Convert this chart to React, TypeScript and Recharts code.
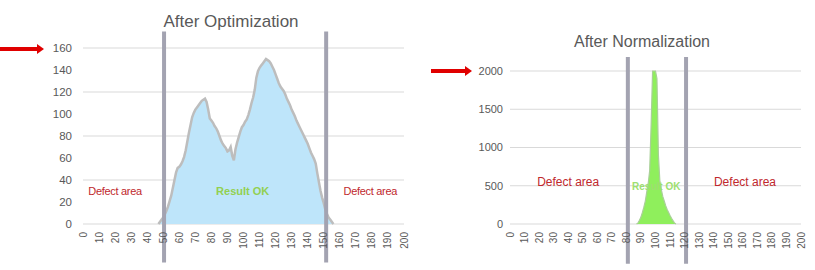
import React from 'react';
import { AreaChart, Area, XAxis, YAxis, CartesianGrid, ReferenceLine, ReferenceDot } from 'recharts';

// histogram bins (x) and counts
const OPT_BINS = [
  47, 48, 49, 50, 51, 52, 53, 54, 55, 56, 57, 58, 59, 60, 61, 62, 63, 64, 65, 66, 67, 68,
  69, 70, 71, 72, 73, 74, 75, 76, 77, 78, 79, 80, 81, 82, 83, 84, 85, 86, 87, 88, 89, 90,
  91, 92, 93, 94, 95, 96, 97, 98, 99, 100, 101, 102, 103, 104, 105, 106, 107, 108, 109, 110,
  111, 112, 113, 114, 115, 116, 117, 118, 119, 120, 121, 122, 123, 124, 125, 126, 127, 128,
  129, 130, 131, 132, 133, 134, 135, 136, 137, 138, 139, 140, 141, 142, 143, 144, 145, 146,
  147, 148, 149, 150, 151, 152, 153, 154, 155, 156,
];
const OPT_COUNTS = [
  0, 2, 4, 6, 9, 12, 16, 21, 26, 33, 40, 47, 51, 52, 54, 57, 61, 67, 75, 83, 90, 97,
  101, 104, 106, 108, 110, 112, 113, 114, 111, 104, 96, 94, 92, 89, 87, 84, 80, 76, 73, 71, 69, 66,
  67, 70, 62, 58, 68, 74, 79, 84, 88, 90, 93, 95, 99, 104, 110, 115, 122, 133, 139, 142,
  144, 146, 148, 150, 149, 148, 146, 143, 140, 136, 132, 128, 125, 123, 121, 118, 114, 111,
  108, 104, 101, 98, 94, 91, 88, 85, 82, 79, 76, 73, 69, 65, 62, 59, 55, 46,
  38, 30, 24, 19, 13, 9, 6, 4, 2, 0,
];

const NORM_BINS = [
  87, 88, 89, 90, 91, 92, 93, 94, 95, 96, 97, 98, 99, 100,
  101, 102, 103, 104, 105, 106, 107, 108, 109, 110, 111, 112, 113, 114,
];
const NORM_COUNTS = [
  0, 15, 50, 90, 150, 220, 300, 420, 530, 700, 1300, 2000, 2000, 2000,
  1900, 900, 560, 450, 360, 300, 240, 190, 150, 110, 75, 45, 15, 0,
];

const X_TICKS = [0, 10, 20, 30, 40, 50, 60, 70, 80, 90, 100, 110, 120, 130, 140, 150, 160, 170, 180, 190, 200];
const OPT_Y_TICKS = [0, 20, 40, 60, 80, 100, 120, 140, 160];
const NORM_Y_TICKS = [0, 500, 1000, 1500, 2000];

// limits drawn as thick bars
const OPT_LIMITS = [50.5, 151.5];
const NORM_LIMITS = [81, 121];

const optData = OPT_BINS.map((x, i) => ({ x, count: OPT_COUNTS[i] }));
const normData = NORM_BINS.map((x, i) => ({ x, count: NORM_COUNTS[i] }));

const FONT = '"Liberation Sans", Arial, sans-serif';
const GREY_TEXT = '#595959';

const RotatedTick = ({ x, y, payload }: any) => (
  <text
    x={x}
    y={y}
    transform={`rotate(-90, ${x}, ${y})`}
    textAnchor="end"
    dy="0.35em"
    fontSize={10}
    fill={GREY_TEXT}
    fontFamily={FONT}
  >
    {payload.value}
  </text>
);

const Arrow = ({ x, y, len }: { x: number; y: number; len: number }) => (
  <g>
    <rect x={x} y={y - 2} width={len - 6} height={4} fill="#e00000" />
    <polygon points={`${x + len - 7},${y - 5} ${x + len},${y} ${x + len - 7},${y + 5}`} fill="#e00000" />
  </g>
);

export default function App() {
  return (
    <div style={{ position: 'absolute', left: 0, top: 0, width: 815, height: 270, background: '#fff', fontFamily: FONT }}>
      <div style={{ position: 'absolute', left: 0, top: 0 }}>
        <AreaChart width={420} height={270} data={optData} margin={{ top: 48, right: 16, bottom: 6, left: 23 }}>
          <CartesianGrid stroke="#d9d9d9" vertical={false} />
          <XAxis
            dataKey="x"
            type="number"
            domain={[0, 200]}
            ticks={X_TICKS}
            interval={0}
            height={40}
            axisLine={false}
            tickLine={false}
            tickSize={0}
            tickMargin={8}
            tick={<RotatedTick />}
          />
          <YAxis
            type="number"
            domain={[0, 160]}
            ticks={OPT_Y_TICKS}
            width={60}
            axisLine={false}
            tickLine={false}
            tickSize={0}
            tickMargin={11}
            tick={{ fontSize: 11.5, fill: GREY_TEXT, fontFamily: FONT }}
          />
          <Area
            type="linear"
            dataKey="count"
            stroke="#bdbdbd"
            strokeWidth={2.5}
            fill="#bee5fa"
            fillOpacity={1}
            isAnimationActive={false}
          />
          {OPT_LIMITS.map((v) => (
            <ReferenceLine
              key={`opt-${v}`}
              segment={[{ x: v, y: -35 }, { x: v, y: 175 }]}
              stroke="#a3a3b1"
              strokeWidth={4}
              ifOverflow="visible"
            />
          ))}
          <ReferenceDot x={20} y={30} r={0} fill="none" stroke="none" ifOverflow="visible"
            label={{ value: 'Defect area', position: 'center', fill: '#c0282d', fontSize: 11, letterSpacing: -0.3, fontFamily: FONT }} />
          <ReferenceDot x={99.5} y={30} r={0} fill="none" stroke="none" ifOverflow="visible"
            label={{ value: 'Result OK', position: 'center', fill: '#92d050', fontSize: 11, fontWeight: 'bold', fontFamily: FONT }} />
          <ReferenceDot x={179} y={30} r={0} fill="none" stroke="none" ifOverflow="visible"
            label={{ value: 'Defect area', position: 'center', fill: '#c0282d', fontSize: 11, letterSpacing: -0.3, fontFamily: FONT }} />
        </AreaChart>
      </div>

      <div style={{ position: 'absolute', left: 410, top: 0 }}>
        <AreaChart width={405} height={270} data={normData} margin={{ top: 71, right: 14, bottom: 6, left: 40 }}>
          <CartesianGrid stroke="#d9d9d9" vertical={false} />
          <XAxis
            dataKey="x"
            type="number"
            domain={[0, 200]}
            ticks={X_TICKS}
            interval={0}
            height={40}
            axisLine={false}
            tickLine={false}
            tickSize={0}
            tickMargin={8}
            tick={<RotatedTick />}
          />
          <YAxis
            type="number"
            domain={[0, 2000]}
            ticks={NORM_Y_TICKS}
            width={60}
            axisLine={false}
            tickLine={false}
            tickSize={0}
            tickMargin={7}
            tick={{ fontSize: 11, fill: GREY_TEXT, fontFamily: FONT }}
          />
          <Area
            type="linear"
            dataKey="count"
            stroke="#a9cf98"
            strokeWidth={1.2}
            fill="#8fef5c"
            fillOpacity={1}
            isAnimationActive={false}
          />
          {NORM_LIMITS.map((v) => (
            <ReferenceLine
              key={`norm-${v}`}
              segment={[{ x: v, y: -520 }, { x: v, y: 2183 }]}
              stroke="#a3a3b1"
              strokeWidth={4}
              ifOverflow="visible"
            />
          ))}
          <ReferenceDot x={40} y={553} r={0} fill="none" stroke="none" ifOverflow="visible"
            label={{ value: 'Defect  area', position: 'center', fill: '#c0282d', fontSize: 12, fontFamily: FONT }} />
          <ReferenceDot x={100.5} y={488} r={0} fill="none" stroke="none" ifOverflow="visible"
            label={{ value: 'Result OK', position: 'center', fill: '#9ee070', fontSize: 10, fontWeight: 'bold', fontFamily: FONT }} />
          <ReferenceDot x={161.5} y={553} r={0} fill="none" stroke="none" ifOverflow="visible"
            label={{ value: 'Defect  area', position: 'center', fill: '#c0282d', fontSize: 12, fontFamily: FONT }} />
        </AreaChart>
      </div>

      <svg width={815} height={270} style={{ position: 'absolute', left: 0, top: 0, pointerEvents: 'none' }}>
        <text x={231} y={27} textAnchor="middle" fontSize={17} fill={GREY_TEXT} fontFamily={FONT}>After Optimization</text>
        <text x={642} y={47} textAnchor="middle" fontSize={16} fill={GREY_TEXT} fontFamily={FONT}>After Normalization</text>
        <Arrow x={0} y={49} len={44} />
        <Arrow x={431} y={71} len={41} />
      </svg>
    </div>
  );
}
